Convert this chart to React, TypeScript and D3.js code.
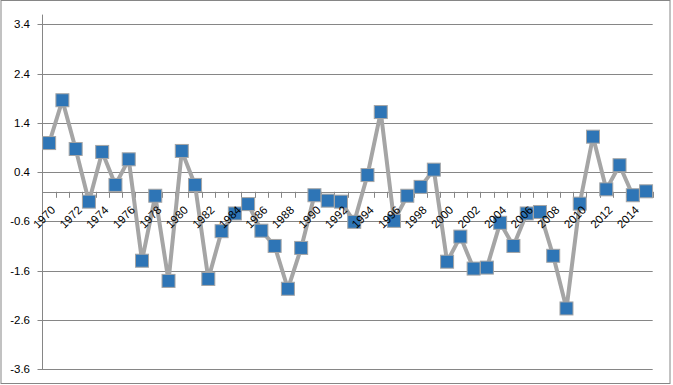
import * as d3 from "d3"

const years = d3.range(1970, 2016).map(String)
const values = [
  0.99, 1.86, 0.87, -0.2, 0.81, 0.14, 0.66, -1.4, -0.08, -1.81,
  0.83, 0.14, -1.77, -0.8, -0.44, -0.25, -0.79, -1.1, -1.97, -1.14,
  -0.07, -0.18, -0.2, -0.61, 0.34, 1.62, -0.59, -0.08, 0.1, 0.45,
  -1.42, -0.91, -1.56, -1.54, -0.63, -1.1, -0.44, -0.41, -1.3, -2.37,
  -0.24, 1.12, 0.05, 0.54, -0.07, 0.01,
]
const yTicks = [-3.6, -2.6, -1.6, -0.6, 0.4, 1.4, 2.4, 3.4]

const width = 673
const height = 385
const margin = { top: 14.6, right: 20.3, bottom: 16, left: 42.5 }

export default function App() {
  const x = d3
    .scaleBand<string>()
    .domain(years)
    .range([margin.left, width - margin.right])
  const y = d3
    .scaleLinear()
    .domain([-3.6, 3.6])
    .range([height - margin.bottom, margin.top])

  const cx = (d: string) => (x(d) ?? 0) + x.bandwidth() / 2
  const line = d3
    .line<number>()
    .x((_, i) => cx(years[i]))
    .y((d) => y(d))

  const zero = y(0)
  const font = "'Liberation Sans', Arial, sans-serif"

  return (
    <svg
      width={width}
      height={height}
      style={{ position: "absolute", left: 0, top: 0, background: "#fff" }}
    >
      <rect x={1} y={0.5} width={669} height={383} fill="#fff" stroke="#868686" />

      {/* gridlines + y labels */}
      {yTicks.map((t) => (
        <g key={t}>
          <line
            x1={margin.left - 5}
            x2={width - margin.right}
            y1={Math.round(y(t)) + 0.5}
            y2={Math.round(y(t)) + 0.5}
            stroke="#868686"
          />
          <text
            x={30}
            y={y(t)}
            dy="0.35em"
            textAnchor="end"
            fontFamily={font}
            fontSize={11.5}
            fill="#000"
          >
            {t.toFixed(1)}
          </text>
        </g>
      ))}

      {/* y axis line */}
      <line
        x1={margin.left}
        x2={margin.left}
        y1={y(3.6)}
        y2={y(-3.6)}
        stroke="#868686"
      />

      {/* x axis at zero */}
      <line
        x1={margin.left}
        x2={width - margin.right}
        y1={Math.round(zero) + 0.5}
        y2={Math.round(zero) + 0.5}
        stroke="#868686"
      />
      {years.map((d) => (
        <line
          key={"t" + d}
          x1={Math.round((x(d) ?? 0) + x.bandwidth()) + 0.5}
          x2={Math.round((x(d) ?? 0) + x.bandwidth()) + 0.5}
          y1={zero}
          y2={zero + 6}
          stroke="#868686"
        />
      ))}

      <path d={line(values) ?? ""} fill="none" stroke="#A5A5A5" strokeWidth={4} strokeLinejoin="round" />

      {values.map((v, i) => (
        <rect
          key={"m" + i}
          x={cx(years[i]) - 6.5}
          y={y(v) - 6.5}
          width={13}
          height={13}
          fill="#2E75B6"
          stroke="#A5A5A5"
          strokeWidth={1}
        />
      ))}

      {/* category labels sit above the series */}
      {years
        .filter((_, i) => i % 2 === 0)
        .map((d) => (
          <text
            key={"l" + d}
            transform={`translate(${cx(d) + 7},${zero + 19}) rotate(-45)`}
            textAnchor="end"
            fontFamily={font}
            fontSize={11.5}
            fill="#000"
          >
            {d}
          </text>
        ))}
    </svg>
  )
}
